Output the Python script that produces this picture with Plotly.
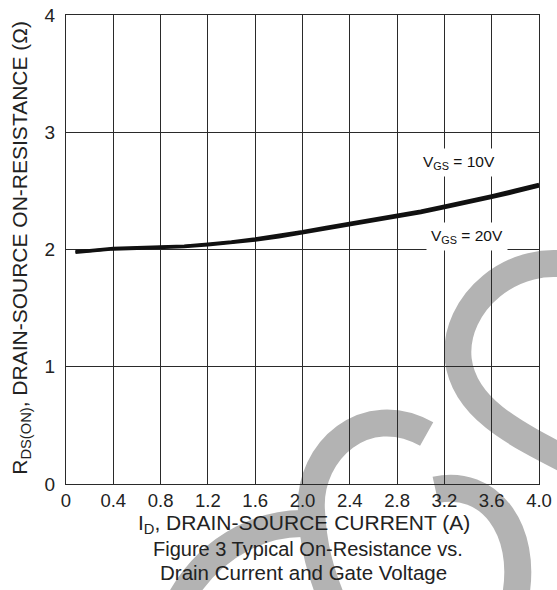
import plotly.graph_objects as go

# drain current (A) and on-resistance (ohm)
drain_current = [0.08, 0.2, 0.4, 0.6, 0.8, 1.0, 1.2, 1.4, 1.6, 1.8, 2.0,
                 2.2, 2.4, 2.6, 2.8, 3.0, 3.2, 3.4, 3.6, 3.8, 4.0]
rds_vgs10 = [1.984, 1.990, 2.010, 2.015, 2.022, 2.030, 2.047, 2.065, 2.090, 2.118, 2.152,
             2.190, 2.225, 2.258, 2.290, 2.328, 2.370, 2.412, 2.458, 2.506, 2.556]
rds_vgs20 = [1.975, 1.984, 2.004, 2.010, 2.015, 2.024, 2.040, 2.057, 2.080, 2.108, 2.142,
             2.178, 2.213, 2.246, 2.278, 2.314, 2.356, 2.398, 2.443, 2.490, 2.540]

x_ticks = [0, 0.4, 0.8, 1.2, 1.6, 2.0, 2.4, 2.8, 3.2, 3.6, 4.0]
x_labels = ["0", "0.4", "0.8", "1.2", "1.6", "2.0", "2.4", "2.8", "3.2", "3.6", "4.0"]
y_ticks = [0, 1, 2, 3, 4]

FONT = "Arial, Liberation Sans, sans-serif"
W, H = 557, 590
L, R, T, B = 66, 11, 5, 106


def to_paper(px, py):
    # pixel position on the page -> paper coords of the plot area
    return (px - L) / (W - L - R), (H - B - py) / (H - T - B)


def wm_path(points):
    cmds = []
    for i, (px, py) in enumerate(points):
        x, y = to_paper(px, py)
        if i == 0:
            cmds.append(f"M {x:.4f},{y:.4f}")
        elif (i - 1) % 3 == 0:
            cmds.append(f"C {x:.4f},{y:.4f}")
        else:
            cmds.append(f"{x:.4f},{y:.4f}")
    return " ".join(cmds)


# grey "S" watermark strokes (page pixels)
watermark = [
    [(585, 262), (520, 245), (458, 300), (464, 357), (470, 405), (515, 430), (585, 465)],
    [(441, 490), (495, 478), (535, 530), (522, 600)],
    [(432, 433), (370, 398), (312, 450), (315, 510), (317, 550), (325, 575), (335, 600)],
    [(183, 600), (215, 545), (270, 520), (318, 525)],
]

fig = go.Figure()
fig.add_trace(go.Scatter(x=drain_current, y=rds_vgs20, mode="lines",
                         line=dict(color="#111", width=3.2), showlegend=False))
fig.add_trace(go.Scatter(x=drain_current, y=rds_vgs10, mode="lines",
                         line=dict(color="#111", width=3.2), showlegend=False))

for pts in watermark:
    fig.add_shape(type="path", path=wm_path(pts), xref="paper", yref="paper",
                  line=dict(color="#b3b3b3", width=27), layer="below")

fig.update_xaxes(range=[0, 4], tickvals=x_ticks, ticktext=x_labels,
                 showgrid=True, gridcolor="#2a2a2a", gridwidth=1,
                 showline=True, linecolor="#2a2a2a", linewidth=1, mirror=True,
                 zeroline=False, ticks="", ticklabelstandoff=0, ticklabeloverflow="allow",
                 tickfont=dict(family=FONT, size=18.5, color="#222"))
fig.update_yaxes(range=[0, 4], tickvals=y_ticks,
                 showgrid=True, gridcolor="#2a2a2a", gridwidth=1,
                 showline=True, linecolor="#2a2a2a", linewidth=1, mirror=True,
                 zeroline=False, ticks="", ticklabelstandoff=6, ticklabeloverflow="allow",
                 tickfont=dict(family=FONT, size=19, color="#222"))

fig.add_annotation(text="V<sub>GS</sub> = 10V", x=3.32, y=2.745, showarrow=False,
                   bgcolor="white", borderpad=4, font=dict(family=FONT, size=15.5, color="#111"))
fig.add_annotation(text="V<sub>GS</sub> = 20V", x=3.39, y=2.11, showarrow=False,
                   bgcolor="white", borderpad=4, font=dict(family=FONT, size=15.5, color="#111"))

# axis titles and caption
common = dict(xref="paper", yref="paper", showarrow=False, xanchor="center", yanchor="middle")
fig.add_annotation(text="R<sub>DS(ON)</sub>, DRAIN-SOURCE ON-RESISTANCE (Ω)",
                   x=to_paper(20, 0)[0], y=to_paper(0, 243)[1], textangle=-90,
                   font=dict(family=FONT, size=21, color="#222"), **common)
fig.add_annotation(text="I<sub>D</sub>, DRAIN-SOURCE CURRENT (A)",
                   x=to_paper(308, 0)[0], y=to_paper(0, 525)[1],
                   font=dict(family=FONT, size=21, color="#222"), **common)
fig.add_annotation(text="Figure 3 Typical On-Resistance vs.",
                   x=to_paper(312, 0)[0], y=to_paper(0, 550)[1],
                   font=dict(family=FONT, size=20, color="#222"), **common)
fig.add_annotation(text="Drain Current and Gate Voltage",
                   x=to_paper(307, 0)[0], y=to_paper(0, 574)[1],
                   font=dict(family=FONT, size=20.5, color="#222"), **common)

fig.update_layout(width=W, height=H, margin=dict(l=L, r=R, t=T, b=B),
                  plot_bgcolor="rgba(0,0,0,0)", paper_bgcolor="white",
                  font=dict(family=FONT))
fig.write_html("out.html", config={"displayModeBar": False},
               post_script="document.body.style.margin='0';")
